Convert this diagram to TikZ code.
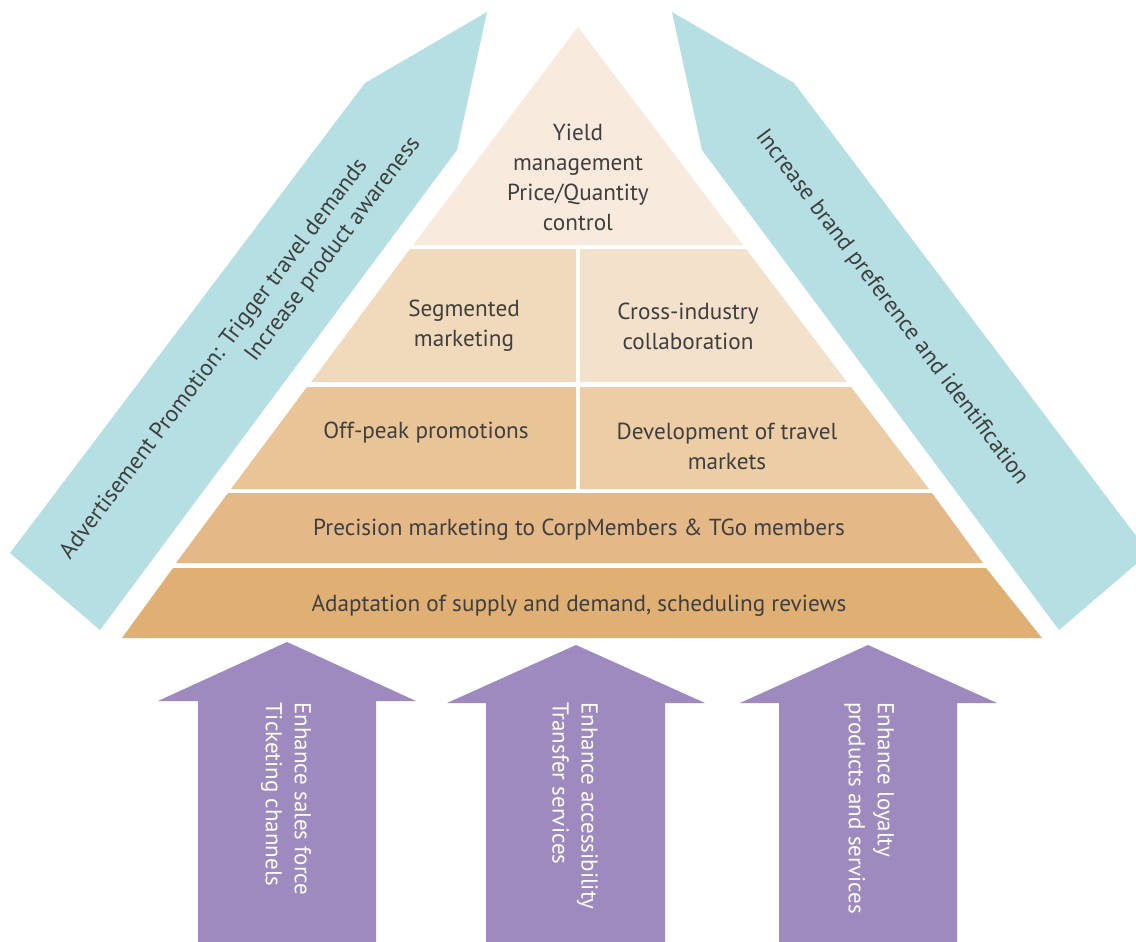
\documentclass[tikz,border=0pt]{standalone}
\usepackage{fontspec}
\setmainfont{PT Sans}
\definecolor{cyanband}{HTML}{B5DFE2}
\definecolor{purplearrow}{HTML}{9E8ABF}
\definecolor{layerA}{HTML}{F8EBDD}
\definecolor{layerBl}{HTML}{F0DABB}
\definecolor{layerBr}{HTML}{F3E1CB}
\definecolor{layerCl}{HTML}{E8C496}
\definecolor{layerCr}{HTML}{ECCDA6}
\definecolor{layerD}{HTML}{E4B987}
\definecolor{layerE}{HTML}{E0AF74}
\definecolor{txt}{HTML}{3F3F3F}
\begin{document}
\begin{tikzpicture}[x=1pt,y=-1pt,
  lbl/.style={text=txt,font=\fontsize{23.2}{30}\selectfont,align=center,inner sep=0pt},
  albl/.style={text=white,font=\fontsize{23}{29}\selectfont,align=left,inner sep=0pt,rotate=-90,anchor=west},
  blbl/.style={text=txt,font=\fontsize{23.2}{30}\selectfont,inner sep=0pt,anchor=base}]
\useasboundingbox (0,0) rectangle (1136,942);
\clip (0,0) rectangle (1136,942);
\fill[white] (0,0) rectangle (1136,942);
% cyan bands
\fill[cyanband] (487,12) -- (457,150) -- (100,630) -- (10,553) -- (365,83) -- cycle;
\fill[cyanband] (672,12) -- (702,150) -- (1059,630) -- (1149,553) -- (794,83) -- cycle;
% pyramid layers
\fill[layerA] (578,27) -- (413,245) -- (743,245) -- cycle;
\fill[layerBl] (410,249) -- (576,249) -- (576,382) -- (311,382) -- cycle;
\fill[layerBr] (580,249) -- (746,249) -- (847,382) -- (580,382) -- cycle;
\fill[layerCl] (307,387) -- (576,387) -- (576,489) -- (231,489) -- cycle;
\fill[layerCr] (580,387) -- (851,387) -- (929,489) -- (580,489) -- cycle;
\fill[layerD] (228,493) -- (932,493) -- (983,563) -- (176,563) -- cycle;
\fill[layerE] (173,568) -- (986,568) -- (1042,638) -- (122,638) -- cycle;
% purple arrows
\fill[purplearrow] (287,642) -- (416,701) -- (376,701) -- (376,942) -- (198,942) -- (198,701) -- (158,701) -- cycle;
\fill[purplearrow] (576,645) -- (705,703) -- (665,703) -- (665,942) -- (486,942) -- (486,703) -- (447,703) -- cycle;
\fill[purplearrow] (868,645) -- (997,703) -- (957,703) -- (957,942) -- (779,942) -- (779,703) -- (740,703) -- cycle;
% texts
\node[lbl] (yield) at (578,177) {Yield\\management\\Price/Quantity\\control};
\node[lbl] (seg) at (464,326) {Segmented\\marketing};
\node[lbl] (cross) at (688,326) {Cross-industry\\collaboration};
\node[lbl] (off) at (426,433) {Off-peak promotions};
\node[lbl] (dev) at (727,446) {Development of travel\\markets};
\node[lbl] (prec) at (579,530) {Precision marketing to CorpMembers \& TGo members};
\node[lbl] (adapt) at (579,606) {Adaptation of supply and demand, scheduling reviews};
\node[blbl,rotate=53] (adv) at (219,363) {Advertisement Promotion: Trigger travel demands};
\node[blbl,rotate=53] (aware) at (338,253) {Increase product awareness};
\node[blbl,rotate=-53] (brand) at (887,311) {Increase brand preference and identification};
\node[albl] (sales) at (286,702) {Enhance sales force\\Ticketing channels};
\node[albl] (access) at (575,702) {Enhance accessibility\\Transfer services};
\node[albl] (loyal) at (869,702) {Enhance loyalty\\products and services};
\end{tikzpicture}
\end{document}
